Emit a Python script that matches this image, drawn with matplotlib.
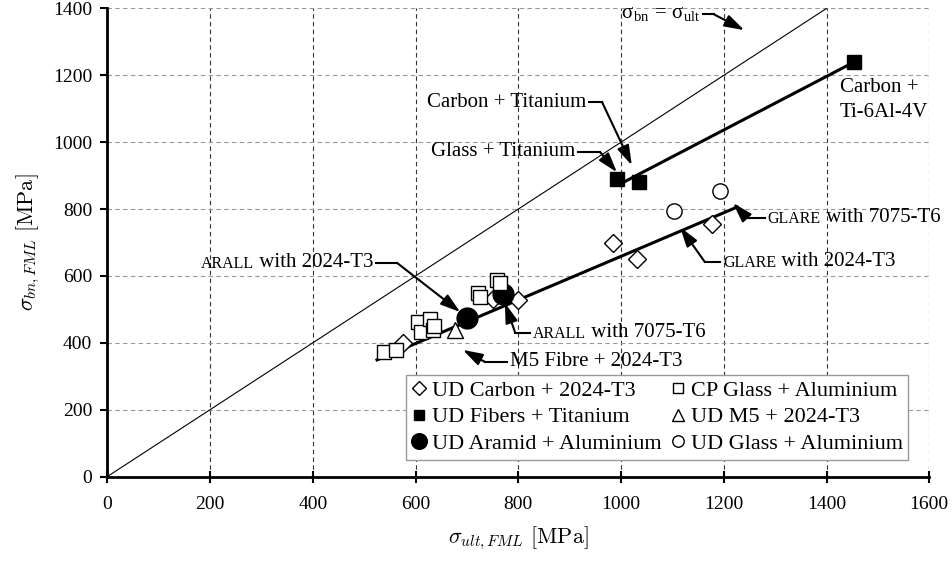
import matplotlib
matplotlib.use("Agg")
import matplotlib.pyplot as plt

plt.rcParams.update({
    "font.family": "Liberation Serif",
    "mathtext.fontset": "cm",
    "font.size": 15,
})

# measured points, sigma_ult [MPa] vs sigma_bn [MPa]
carbon_2024_x = [575, 750, 800, 985, 1032, 1178]
carbon_2024_y = [400, 530, 528, 700, 650, 755]
cp_glass_x = [539, 562, 605, 611, 628, 634, 636, 721, 725, 759, 764]
cp_glass_y = [373, 379, 462, 432, 471, 438, 450, 549, 537, 587, 578]
fibers_ti_x = [992, 1035, 1454]
fibers_ti_y = [889, 880, 1240]
m5_x = [677]
m5_y = [438]
aramid_x = [700, 771]
aramid_y = [474, 547]
ud_glass_x = [1103, 1193]
ud_glass_y = [794, 854]

# trend lines
ti_fit_x = [1002, 1454]
ti_fit_y = [878, 1240]
al_fit_x = [525, 1226]
al_fit_y = [349, 806]
diag = [0, 1400]

fig = plt.figure(figsize=(9.53, 5.62), dpi=100)
ax = fig.add_axes([0.1126, 0.152, 0.8625, 0.833])

ax.plot(diag, diag, color="black", lw=0.8, zorder=2)
ax.plot(ti_fit_x, ti_fit_y, color="black", lw=2.2, zorder=3)
ax.plot(al_fit_x, al_fit_y, color="black", lw=2.2, zorder=3)

mk = dict(ls="none", mec="black", mew=1.0, zorder=4)
h_carbon, = ax.plot(carbon_2024_x, carbon_2024_y, marker="D", ms=9.5, mfc="white", **mk)
h_fib, = ax.plot(fibers_ti_x, fibers_ti_y, marker="s", ms=10, mfc="black", **mk)
h_ara, = ax.plot(aramid_x, aramid_y, marker="o", ms=15, mfc="black", **mk)
h_cp, = ax.plot(cp_glass_x, cp_glass_y, marker="s", ms=10, mfc="white", **mk)
h_m5, = ax.plot(m5_x, m5_y, marker="^", ms=12, mfc="white", **mk)
h_gl, = ax.plot(ud_glass_x, ud_glass_y, marker="o", ms=11, mfc="white", **mk)

arrow = dict(arrowstyle="-|>,head_length=0.8,head_width=0.25", color="black",
             lw=1.5, shrinkA=0, shrinkB=0)
CAPS = 11.5


def callout(text_x, knee_x, y, tip, label, side, caps=None):
    """Text, short horizontal leader, then an arrow to the tip."""
    ax.plot([text_x, knee_x], [y, y], color="black", lw=1.5, zorder=5)
    ax.annotate("", xy=tip, xytext=(knee_x, y), arrowprops=arrow, zorder=5)
    pad = 2 if side == "left" else -2
    ha = "left" if side == "left" else "right"
    if caps is None:
        ax.annotate(label, xy=(text_x, y), xytext=(pad, 0),
                    textcoords="offset points", ha=ha, va="center")
        return
    if side == "left":
        t = ax.annotate(caps, xy=(text_x, y), xytext=(pad, -0.8),
                        textcoords="offset points", ha="left", va="center",
                        fontsize=CAPS)
        ax.annotate(label, xy=(1, 0), xycoords=t, ha="left", va="bottom")
    else:
        t = ax.annotate(label, xy=(text_x, y), xytext=(pad, 0),
                        textcoords="offset points", ha="right", va="center")
        ax.annotate(caps, xy=(0, 0), xycoords=t, ha="right", va="bottom",
                    fontsize=CAPS)


callout(1160, 1180, 1383, (1240, 1335),
        r"σ$_{\mathregular{bn}}$ = σ$_{\mathregular{ult}}$", "right")
callout(937, 963, 1120, (1021, 931), "Carbon + Titanium", "right")
callout(916, 959, 971, (992, 910), "Glass + Titanium", "right")
callout(523, 564, 639, (687, 492), " with 2024-T3", "right", caps="ARALL")
callout(823, 794, 430, (774, 519), " with 7075-T6", "left", caps="ARALL")
callout(778, 735, 343, (692, 379), "M5 Fibre + 2024-T3", "left")
callout(1193, 1163, 642, (1115, 746), " with 2024-T3", "left", caps="GLARE")
callout(1280, 1245, 773, (1218, 818), " with 7075-T6", "left", caps="GLARE")

ax.text(1426, 1126, "Carbon +\nTi-6Al-4V", ha="left", va="center",
        linespacing=1.4, fontsize=15)

ax.set_xlim(0, 1600)
ax.set_ylim(0, 1400)
ax.set_xticks(range(0, 1601, 200))
ax.set_yticks(range(0, 1401, 200))
ax.tick_params(axis="x", direction="inout", length=8, width=1.5, labelsize=14, pad=10)
ax.tick_params(axis="y", direction="out", length=5, width=1.5, labelsize=14, pad=6)
ax.xaxis.grid(True, ls=(0, (4, 3)), color="#333333", lw=0.8)
ax.yaxis.grid(True, ls=(0, (4, 3)), color="#999999", lw=0.8)
ax.set_axisbelow(True)
for s in ("top", "right"):
    ax.spines[s].set_visible(False)
for s in ("left", "bottom"):
    ax.spines[s].set_linewidth(2)

ax.set_xlabel(r"$\sigma_{ult,FML}\ [\mathrm{MPa}]$", fontsize=16, labelpad=8)
ax.set_ylabel(r"$\sigma_{bn,FML}\ [\mathrm{MPa}]$", fontsize=16, labelpad=8)

leg = ax.legend(
    [h_carbon, h_fib, h_ara, h_cp, h_m5, h_gl],
    ["UD Carbon + 2024-T3", "UD Fibers + Titanium", "UD Aramid + Aluminium",
     "CP Glass + Aluminium", "UD M5 + 2024-T3", "UD Glass + Aluminium"],
    ncol=2, loc="lower left", bbox_to_anchor=(0.363, 0.036), borderaxespad=0,
    fontsize=16, handlelength=0.7, handletextpad=0.25, columnspacing=0.35,
    labelspacing=0.28, borderpad=0.25, fancybox=False, framealpha=1,
    edgecolor="#999999", markerscale=0.75,
)
leg.get_frame().set_linewidth(1.0)
leg.set_zorder(6)

fig.savefig("out.png", dpi=100)
